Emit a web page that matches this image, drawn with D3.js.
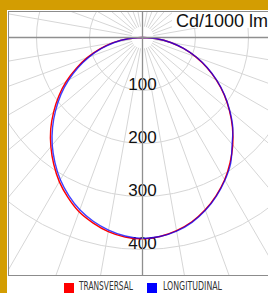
<!DOCTYPE html>
<html><head><meta charset="utf-8">
<script src="https://cdn.jsdelivr.net/npm/d3@7"></script>
<style>html,body{margin:0;padding:0;background:#fff;}svg{display:block;}</style>
</head><body>
<svg id="c" width="268" height="293"></svg>
<script>
// ---- data (angle from nadir in degrees, intensity in cd/1000 lm) ----
const angles = [-90,-85,-80,-75,-70,-65,-60,-55,-50,-45,-40,-35,-30,-25,-20,-15,-10,-5,0,5,10,15,20,25,30,35,40,45,50,55,60,65,70,75,80,85,90];
const transversal = [0,28,56,83,111,138,166,193,219,245,269,292,314,333,350,362,372,378,380,377,370,360,346,329,310,288,265,240,214,188,161,134,107,80,54,27,0];
const longitudinal = [0,27,54,80,107,134,161,188,214,240,265,288,310,329,346,359,369,376,379,377,371,361,347,330,311,290,263,241,215,189,162,135,108,81,54,27,0];
const radialTicks = [100,200,300,400];
const tickLabels = ["100","200","300","400"];
const seriesNames = ["TRANSVERSAL","LONGITUDINAL"];
const seriesColors = ["#ff0000","#0000ff"];
const unitLabel = "Cd/1000 lm";

const svg = d3.select("#c");
const W = 268, H = 293;
const cx = 142.5, cy = 37.5;
const r = d3.scaleLinear().domain([0,400]).range([0,212]);

svg.append("rect").attr("width",W).attr("height",H).attr("fill","#d39d02");
svg.append("rect").attr("x",7).attr("y",10).attr("width",W-7).attr("height",H-10).attr("fill","#fff");

svg.append("clipPath").attr("id","clip").append("rect")
  .attr("x",9).attr("y",12).attr("width",W).attr("height",263);

const plot = svg.append("g").attr("clip-path","url(#clip)");
const g = plot.append("g").attr("transform",`translate(${cx},${cy})`);

// spokes every 10 degrees
const spokeAngles = d3.range(0,360,10).filter(a => a % 90 !== 0);
g.selectAll("line.spoke").data(spokeAngles).enter().append("line")
  .attr("x1", a => 11*Math.sin(a*Math.PI/180))
  .attr("y1", a => 11*Math.cos(a*Math.PI/180))
  .attr("x2", a => 400*Math.sin(a*Math.PI/180))
  .attr("y2", a => 400*Math.cos(a*Math.PI/180))
  .attr("stroke","#d6d6d6").attr("stroke-width",1);

// circles
g.selectAll("circle.grid").data(radialTicks).enter().append("circle")
  .attr("r", d => r(d)).attr("fill","none")
  .attr("stroke","#d6d6d6").attr("stroke-width",1);

// axes
plot.append("line").attr("x1",8).attr("x2",W).attr("y1",cy).attr("y2",cy)
  .attr("stroke","#8f8f8f").attr("stroke-width",1.3);
plot.append("line").attr("x1",cx).attr("x2",cx).attr("y1",11).attr("y2",276)
  .attr("stroke","#8f8f8f").attr("stroke-width",1.3);

// labels
g.selectAll("text.tick").data(radialTicks).enter().append("text")
  .attr("x",0).attr("y", d => r(d) - 1)
  .attr("text-anchor","middle")
  .attr("font-family","'Liberation Sans', Arial, sans-serif")
  .attr("font-size",17).attr("fill","#111")
  .text((d,i) => tickLabels[i]);

// curves
const line = d3.lineRadial()
  .angle((d,i) => Math.PI - angles[i]*Math.PI/180)
  .radius(d => r(d))
  .curve(d3.curveCatmullRom);
[transversal, longitudinal].forEach((s,k) => {
  g.append("path").datum(s).attr("d", line)
    .attr("fill","none").attr("stroke",seriesColors[k])
    .attr("stroke-width",1.4).attr("stroke-opacity", k ? 0.75 : 1);
});

// unit label
plot.append("rect").attr("x",172).attr("y",12).attr("width",100).attr("height",16).attr("fill","#fff");
svg.append("text").attr("x",176).attr("y",27)
  .attr("font-family","'Liberation Sans', Arial, sans-serif")
  .attr("font-size",18).attr("fill","#111").text(unitLabel);

// frame
svg.append("rect").attr("x",8.5).attr("y",11.5).attr("width",W).attr("height",264)
  .attr("fill","none").attr("stroke","#8c8c8c").attr("stroke-width",1);

// legend
const legX = [64,147], txtX = [79,163], txtW = [54,59];
seriesNames.forEach((n,i) => {
  svg.append("rect").attr("x",legX[i]).attr("y",283).attr("width",10).attr("height",10).attr("fill",seriesColors[i]);
  svg.append("text").attr("x",txtX[i]).attr("y",290.3)
    .attr("font-family","'Liberation Sans Narrow','DejaVu Sans Condensed', sans-serif")
    .attr("font-size",12).attr("fill","#333")
    .attr("textLength",txtW[i]).attr("lengthAdjust","spacingAndGlyphs")
    .text(n);
});
</script>
</body></html>
